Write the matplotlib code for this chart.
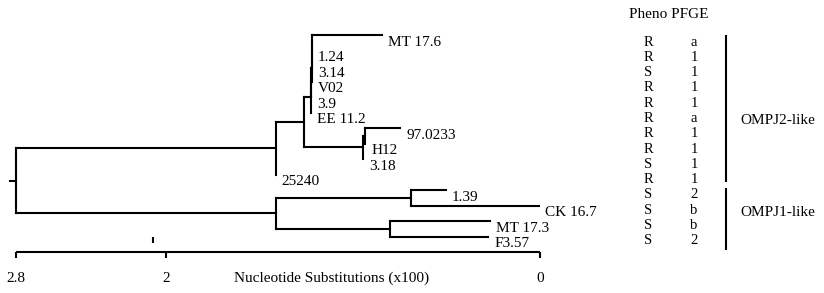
import matplotlib
matplotlib.use("Agg")
import matplotlib.pyplot as plt

# ---------------- data ----------------
leaf_names = ["MT 17.6", "1.24", "3.14", "V02", "3.9", "EE 11.2", "97.0233",
              "H12", "3.18", "25240", "1.39", "CK 16.7", "MT 17.3", "F3.57"]
pheno = ["R", "R", "S", "R", "R", "R", "R", "R", "S", "R", "S", "S", "S", "S"]
pfge = ["a", "1", "1", "1", "1", "a", "1", "1", "1", "1", "2", "b", "b", "2"]
group_names = ["OMPJ2-like", "OMPJ1-like"]
group_first = [0, 10]
group_last = [9, 13]

# tree edges: child, parent, branch length (nucleotide substitutions x100)
edge_child = ["A", "E", "B", "25240", "C", "D",
              "c4", "EE 11.2", "c3", "3.9", "c2", "V02", "c1", "3.14",
              "MT 17.6", "1.24", "D1", "3.18", "97.0233", "H12",
              "F", "G", "1.39", "CK 16.7", "MT 17.3", "F3.57"]
edge_parent = ["root", "root", "A", "A", "B", "B",
               "C", "C", "c4", "c4", "c3", "c3", "c2", "c2",
               "c1", "c1", "D", "D", "D1", "D1",
               "E", "E", "F", "F", "G", "G"]
edge_length = [1.388, 1.388, 0.150, 0.0, 0.040, 0.318,
               0.001, 0.0, 0.001, 0.0, 0.001, 0.0, 0.001, 0.0,
               0.373, 0.0, 0.010, 0.0, 0.186, 0.0,
               0.722, 0.611, 0.187, 0.687, 0.534, 0.525]

scale_max = 2.8
scale_ticks = [2.8, 2.0, 0.0]
scale_tick_labels = ["2.8", "2", "0"]
stray_mark = 2.07
axis_title = "Nucleotide Substitutions (x100)"

# ---------------- layout ----------------
W, H = 824, 293
PX_PER_UNIT = 187.14
X0_PX = 16          # pixel of root (value 2.8)
ROW0_PX = 35.0      # pixel of first leaf row
ROW_PX = 15.5       # pixels per row


def px2x(px):
    return scale_max - (px - X0_PX) / PX_PER_UNIT


def py2row(py):
    return (py - ROW0_PX) / ROW_PX


plt.rcParams['font.family'] = ['Liberation Serif', 'DejaVu Serif']
fig = plt.figure(figsize=(W / 100, H / 100), dpi=100)
ax = fig.add_axes([0, 0, 1, 1])
ax.set_xlim(px2x(0), px2x(W))
ax.set_ylim(py2row(H), py2row(0))
ax.axis("off")

# ---------------- tree geometry ----------------
children = {}
blen = {}
for c, p, l in zip(edge_child, edge_parent, edge_length):
    children.setdefault(p, []).append(c)
    blen[c] = l

depth = {"root": 0.0}


def set_depth(n):
    for c in children.get(n, []):
        depth[c] = depth[n] + blen[c]
        set_depth(c)


set_depth("root")

ypos = {name: i for i, name in enumerate(leaf_names)}


def set_y(n):
    if n in ypos:
        return ypos[n]
    ys = [set_y(c) for c in children[n]]
    ypos[n] = (min(ys) + max(ys)) / 2.0
    return ypos[n]


set_y("root")

LW = 1.5
col = "black"
for n, ch in children.items():
    xn = scale_max - depth[n]
    ys = [ypos[c] for c in ch]
    ax.plot([xn, xn], [min(ys), max(ys)], color=col, lw=LW,
            solid_capstyle="projecting")
    for c in ch:
        xc = scale_max - depth[c]
        if xc != xn:
            ax.plot([xn, xc], [ypos[c], ypos[c]], color=col, lw=LW,
                    solid_capstyle="projecting")

# root stub
xr = scale_max - depth["root"]
ax.plot([xr + 6 / PX_PER_UNIT, xr], [ypos["root"]] * 2, color=col, lw=LW)

# leaf labels
FS = 11
for name in leaf_names:
    xl = scale_max - depth[name] - 6 / PX_PER_UNIT
    ax.text(xl, ypos[name] + 0.7, name, fontsize=FS, ha="left",
            va="baseline")

# ---------------- scale bar ----------------
bar_row = py2row(251.5)
ax.plot([scale_ticks[0], scale_ticks[-1]], [bar_row, bar_row], color=col,
        lw=LW, solid_capstyle="butt")
for t, lab in zip(scale_ticks, scale_tick_labels):
    ax.plot([t, t], [bar_row, bar_row + 6.5 / ROW_PX], color=col, lw=LW,
            solid_capstyle="butt")
    ax.text(t, py2row(281.5), lab, fontsize=FS, ha="center", va="baseline")
ax.plot([stray_mark, stray_mark], [py2row(237), py2row(242.5)], color=col,
        lw=LW, solid_capstyle="butt")
ax.text(px2x(331.5), py2row(281.5), axis_title, fontsize=FS, ha="center",
        va="baseline")

# ---------------- table ----------------
FS_T = 10.5
ax.text(px2x(629), py2row(18.5), "Pheno PFGE", fontsize=FS_T + 0.5,
        ha="left", va="baseline")
for i, (ph, pf) in enumerate(zip(pheno, pfge)):
    yb = py2row(45.5 + 15.3 * i)
    ax.text(px2x(648), yb, ph, fontsize=FS_T, ha="center", va="baseline")
    ax.text(px2x(694), yb, pf, fontsize=FS_T, ha="center", va="baseline")

bar_top_px = [35, 187.7]
bar_bot_px = [181.7, 250]
lab_px = [120, 213]
for g, name in enumerate(group_names):
    ax.plot([px2x(726)] * 2, [py2row(bar_top_px[g]), py2row(bar_bot_px[g])],
            color=col, lw=LW, solid_capstyle="butt")
    ax.text(px2x(740), py2row(lab_px[g]), name, fontsize=FS, ha="left",
            va="center")

fig.savefig("out.png", dpi=100, facecolor="white")
